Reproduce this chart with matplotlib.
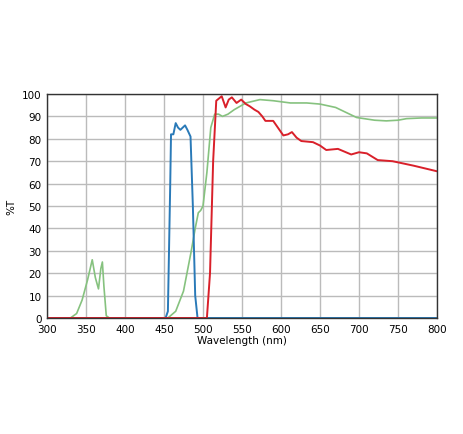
import matplotlib.pyplot as plt

# Blue bandpass
blue_wl = [300, 452, 455, 458, 459, 462, 465, 468, 471, 474, 477, 480, 484, 487, 490, 493, 800]
blue_t = [0, 0, 3, 60, 82, 82, 87, 85, 84, 85, 86, 84, 81, 50, 10, 0, 0]

# Green multi-band
green_wl = [300, 330, 338, 345, 352, 358, 362, 366, 369, 371, 373, 376, 380, 455, 465, 475, 485,
            490, 494, 497, 500, 505, 510, 515, 520, 525, 532, 540, 555, 573, 590, 612, 633,
            650, 670, 697, 720, 735, 750, 761, 780, 800]
green_t = [0, 0, 2, 8, 17, 26, 18, 13, 22, 25, 14, 1, 0, 0, 3, 12, 30,
           40, 47, 48, 50, 65, 85, 91, 91, 90, 91, 93, 96, 97.5, 97, 96, 96,
           95.5, 94, 89.5, 88.3, 88, 88.3, 89, 89.3, 89.3]

# Red longpass
red_wl = [300, 505, 509, 513, 517, 524, 529, 533, 537, 543, 549, 555, 560, 566, 571, 576, 580,
          590, 596, 603, 609, 614, 620, 626, 641, 650, 658, 673, 690, 700, 710, 717, 724, 743, 770, 800]
red_t = [0, 0, 20, 70, 97, 99, 94, 97.5, 98.5, 96, 97.5, 95.5, 94.5, 93, 92, 90, 88,
         88, 85, 81.5, 82, 83, 80.5, 79, 78.5, 77, 75, 75.5, 73, 74, 73.5, 72, 70.5, 70, 68, 65.5]

fig = plt.figure(figsize=(4.64, 4.35), dpi=100)
ax = fig.add_axes([47 / 464, 1 - 319 / 435, 390 / 464, 224 / 435])

ax.plot(green_wl, green_t, color="#86c27f", lw=1.2)
ax.plot(blue_wl, blue_t, color="#2a7ab8", lw=1.4)
ax.plot(red_wl, red_t, color="#d9202a", lw=1.4)

ax.set_xlim(300, 800)
ax.set_ylim(0, 100)
ax.set_xticks(range(300, 801, 50))
ax.set_yticks(range(0, 101, 10))
ax.grid(True, color="#bbbbbb", lw=1)
ax.tick_params(axis="x", length=0, labelsize=7.5, pad=4)
ax.tick_params(axis="y", length=0, labelsize=7.5, pad=4)
for s in ax.spines.values():
    s.set_color("#333333")
    s.set_linewidth(1)
ax.set_xlabel("Wavelength (nm)", fontsize=7.5, labelpad=1)
ax.set_ylabel("%T", fontsize=7.5, labelpad=4)

fig.savefig("out.png", dpi=100)
